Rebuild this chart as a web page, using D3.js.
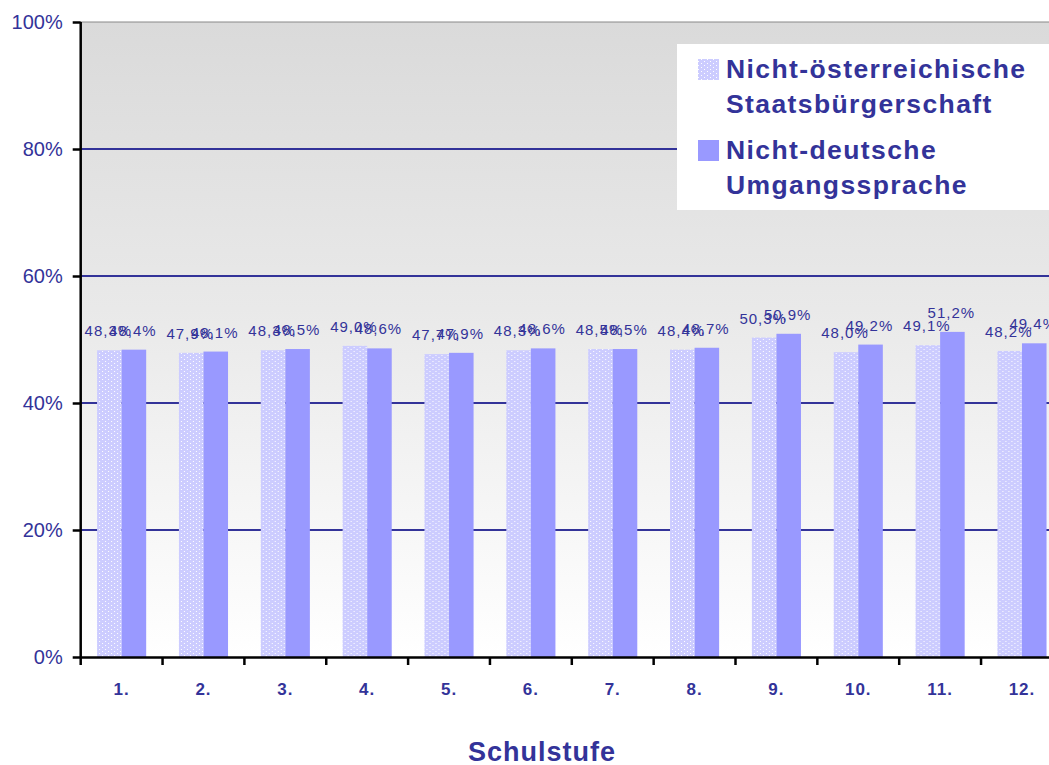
<!DOCTYPE html>
<html><head><meta charset="utf-8">
<script src="https://cdn.jsdelivr.net/npm/d3@7"></script>
<style>body{margin:0;background:#fff;}svg{display:block;font-family:"Liberation Sans",Arial,sans-serif;}</style>
</head><body>
<script>
const categories = ["1.","2.","3.","4.","5.","6.","7.","8.","9.","10.","11.","12."];
const staatsb = [48.3,47.9,48.3,49.0,47.7,48.3,48.5,48.4,50.3,48.0,49.1,48.2];
const umgang = [48.4,48.1,48.5,48.6,47.9,48.6,48.5,48.7,50.9,49.2,51.2,49.4];
const seriesNames = ["Nicht-österreichische\nStaatsbürgerschaft","Nicht-deutsche\nUmgangssprache"];
const yTicks = [0,20,40,60,80,100];

const W=1049,H=765;
const svg=d3.select("body").append("svg").attr("width",W).attr("height",H);
const pLeft=80.7, pTop=22, pBottom=657, bandW=81.85;
const pRight=pLeft+bandW*12;
const x=d3.scaleBand().domain(categories).range([pLeft,pRight]).paddingInner(0.4).paddingOuter(0.2);
const x0=d3.scaleBand().domain(categories).range([pLeft,pRight]).padding(0);
const xs=d3.scaleBand().domain([0,1]).range([0,x.bandwidth()]);
const y=d3.scaleLinear().domain([0,100]).range([pBottom,pTop]);

const defs=svg.append("defs");
const g=defs.append("linearGradient").attr("id","bg").attr("x1",0).attr("y1",0).attr("x2",0).attr("y2",1);
g.append("stop").attr("offset","0%").attr("stop-color","#dadada");
g.append("stop").attr("offset","45%").attr("stop-color","#e9e9e9");
g.append("stop").attr("offset","100%").attr("stop-color","#ffffff");
const p=defs.append("pattern").attr("id","dots").attr("width",6).attr("height",4).attr("patternUnits","userSpaceOnUse");
p.append("rect").attr("width",6).attr("height",4).attr("fill","#ccccff");
p.append("rect").attr("x",2).attr("y",1).attr("width",1).attr("height",1).attr("fill","#ffffff");
p.append("rect").attr("x",5).attr("y",3).attr("width",1).attr("height",1).attr("fill","#ffffff");

svg.append("rect").attr("x",pLeft).attr("y",pTop).attr("width",pRight-pLeft).attr("height",pBottom-pTop).attr("fill","url(#bg)");

// grid
svg.append("g").selectAll("line").data(yTicks.filter(d=>d>0&&d<100)).join("line")
  .attr("x1",pLeft).attr("x2",pRight).attr("y1",d=>y(d)).attr("y2",d=>y(d))
  .attr("stroke","#333399").attr("stroke-width",2);
svg.append("line").attr("x1",pLeft).attr("x2",pRight).attr("y1",y(100)).attr("y2",y(100)).attr("stroke","#888").attr("stroke-width",1);

// bars
const data=categories.map((c,i)=>({c,v:[staatsb[i],umgang[i]]}));
const grp=svg.append("g").selectAll("g").data(data).join("g").attr("transform",d=>`translate(${x(d.c)},0)`);
grp.selectAll("rect").data(d=>d.v).join("rect")
  .attr("x",(d,i)=>xs(i)).attr("width",xs.bandwidth())
  .attr("y",d=>y(d)).attr("height",d=>pBottom-y(d))
  .attr("fill",(d,i)=>i===0?"url(#dots)":"#9999ff");
grp.selectAll("text").data(d=>d.v).join("text")
  .attr("x",(d,i)=>xs(i)+xs.bandwidth()/2-1).attr("y",d=>y(d)-14)
  .attr("text-anchor","middle").attr("font-size",15).attr("fill","#333399").attr("letter-spacing","1")
  .text(d=>d.toFixed(1).replace(".",",")+"%");

// y axis
const ya=svg.append("g").attr("transform",`translate(${pLeft},0)`)
  .call(d3.axisLeft(y).tickValues(yTicks).tickFormat(d=>d+"%").tickSize(8).tickPadding(10));
ya.select(".domain").attr("stroke","#000").attr("stroke-width",2.5).attr("d",`M0,${pTop}V${pBottom}`);
ya.selectAll(".tick line").attr("stroke","#000").attr("stroke-width",2.5);
ya.selectAll(".tick text").attr("font-size",20).attr("fill","#333399").attr("font-family","Liberation Sans, Arial, sans-serif");

// x axis
const xa=svg.append("g").attr("transform",`translate(0,${pBottom})`)
  .call(d3.axisBottom(x0).tickSize(0).tickPadding(26));
xa.select(".domain").attr("stroke","#000").attr("stroke-width",2.5);
xa.selectAll(".tick text").attr("font-size",17).attr("font-weight","bold").attr("fill","#333399").attr("letter-spacing","1").attr("font-family","Liberation Sans, Arial, sans-serif");
svg.append("g").selectAll("line").data(categories).join("line")
  .attr("x1",d=>x0(d)).attr("x2",d=>x0(d)).attr("y1",pBottom).attr("y2",pBottom+8)
  .attr("stroke","#000").attr("stroke-width",2.5);

svg.append("text").attr("x",542).attr("y",761).attr("text-anchor","middle")
  .attr("font-size",27).attr("font-weight","bold").attr("letter-spacing","1").attr("fill","#333399").text("Schulstufe");

// legend
const lg=svg.append("g");
lg.append("rect").attr("x",677).attr("y",44).attr("width",372).attr("height",166).attr("fill","#fff");
seriesNames.forEach((n,i)=>{
  const yy=[78,159][i];
  lg.append("rect").attr("x",698).attr("y",yy-19).attr("width",21).attr("height",21).attr("fill",i===0?"url(#dots)":"#9999ff");
  n.split("\n").forEach((t,j)=>{
    lg.append("text").attr("x",726).attr("y",yy+j*35).attr("font-size",26.5).attr("font-weight","bold")
      .attr("letter-spacing","1.4").attr("fill","#333399").text(t);
  });
});
</script>
</body></html>
